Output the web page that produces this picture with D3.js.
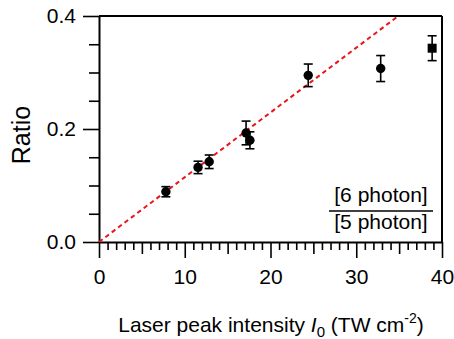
<!DOCTYPE html>
<html><head><meta charset="utf-8">
<script src="https://cdn.jsdelivr.net/npm/d3@7"></script>
<style>
html,body{margin:0;padding:0;background:#fff;}
svg{display:block;font-family:"Liberation Sans",Arial,sans-serif;}
</style></head>
<body>
<svg id="c" width="454" height="339"></svg>
<script>
const intensity = [7.8, 11.55, 12.85, 17.15, 17.6, 24.4, 32.85, 38.85];
const ratio     = [0.089, 0.132, 0.142, 0.193, 0.180, 0.295, 0.307, 0.343];
const ratioErr  = [0.009, 0.011, 0.012, 0.021, 0.015, 0.020, 0.023, 0.022];
const markerShape = ["circle","circle","circle","circle","circle","circle","circle","square"];
const fitX = [0, 34.9];
const fitY = [0, 0.4];
const xMajor = [0, 10, 20, 30, 40];
const xMid = [5, 15, 25, 35];
const xMinor = d3.range(0, 41).filter(v => v % 5 !== 0);
const yMajor = [0.0, 0.2, 0.4];
const yMinor = [0.05, 0.1, 0.15, 0.25, 0.3, 0.35];

const svg = d3.select("#c");
const L = 99, R = 442, T = 16, B = 242;
const x = d3.scaleLinear().domain([0, 40]).range([L, R]);
const y = d3.scaleLinear().domain([0, 0.4]).range([B, T]);

// frame top & right
svg.append("line").attr("x1", L).attr("x2", R).attr("y1", T).attr("y2", T)
  .attr("stroke", "#000").attr("stroke-width", 2);
svg.append("line").attr("x1", R).attr("x2", R).attr("y1", T).attr("y2", B)
  .attr("stroke", "#000").attr("stroke-width", 2);

function styleAxis(g){
  g.select(".domain").attr("stroke-width", 2);
  g.selectAll(".tick line").attr("stroke-width", 1.6);
  g.selectAll("text").attr("font-size", 21).attr("fill", "#000");
}

// x axis
const gx = svg.append("g").attr("transform", `translate(0,${B})`);
gx.append("g").call(d3.axisBottom(x).tickValues(xMinor).tickSize(8).tickFormat("").tickSizeOuter(0))
  .call(g => { g.select(".domain").remove(); g.selectAll(".tick line").attr("stroke-width",1.6); });
gx.append("g").call(d3.axisBottom(x).tickValues(xMid).tickSize(12).tickFormat("").tickSizeOuter(0))
  .call(g => { g.select(".domain").remove(); g.selectAll(".tick line").attr("stroke-width",1.6); });
gx.append("g").call(d3.axisBottom(x).tickValues(xMajor).tickSize(16).tickPadding(11).tickFormat(d3.format("d")).tickSizeOuter(0))
  .call(styleAxis);

// y axis
const gy = svg.append("g").attr("transform", `translate(${L},0)`);
gy.append("g").call(d3.axisLeft(y).tickValues(yMinor).tickSize(10).tickFormat("").tickSizeOuter(0))
  .call(g => { g.select(".domain").remove(); g.selectAll(".tick line").attr("stroke-width",1.6); });
gy.append("g").call(d3.axisLeft(y).tickValues(yMajor).tickSize(16).tickPadding(7).tickFormat(d3.format(".1f")).tickSizeOuter(0))
  .call(styleAxis);

// fit line
svg.append("defs").append("clipPath").attr("id","clip")
  .append("rect").attr("x", L).attr("y", T).attr("width", R-L).attr("height", B-T);
svg.append("path")
  .datum(fitX.map((v,i)=>[v, fitY[i]]))
  .attr("d", d3.line().x(d=>x(d[0])).y(d=>y(d[1])))
  .attr("clip-path","url(#clip)")
  .attr("fill","none").attr("stroke","#e8141c").attr("stroke-width",2)
  .attr("stroke-dasharray","4.5,3.5");

// error bars
const data = intensity.map((v,i)=>({x:v, y:ratio[i], e:ratioErr[i], s:markerShape[i]}));
const eb = svg.append("g").attr("stroke","#000").attr("stroke-width",1.6);
data.forEach(d=>{
  const cx = x(d.x), y1 = y(d.y - d.e), y2 = y(d.y + d.e);
  eb.append("line").attr("x1",cx).attr("x2",cx).attr("y1",y1).attr("y2",y2);
  eb.append("line").attr("x1",cx-4.5).attr("x2",cx+4.5).attr("y1",y1).attr("y2",y1);
  eb.append("line").attr("x1",cx-4.5).attr("x2",cx+4.5).attr("y1",y2).attr("y2",y2);
});
// markers
const mk = svg.append("g");
data.forEach(d=>{
  if (d.s === "square") {
    mk.append("rect").attr("x", x(d.x)-4.5).attr("y", y(d.y)-4.5).attr("width",9).attr("height",9).attr("fill","#000");
  } else {
    mk.append("circle").attr("cx", x(d.x)).attr("cy", y(d.y)).attr("r", 4.7).attr("fill","#000");
  }
});

// fraction label
const fx = 381;
svg.append("text").attr("x", fx).attr("y", 202).attr("text-anchor","middle")
  .attr("font-size", 21).text("[6 photon]");
svg.append("line").attr("x1", 329).attr("x2", 433).attr("y1", 211).attr("y2", 211)
  .attr("stroke","#000").attr("stroke-width",1.5);
svg.append("text").attr("x", fx).attr("y", 229).attr("text-anchor","middle")
  .attr("font-size", 21).text("[5 photon]");

// y label
svg.append("text").attr("transform","translate(30,135) rotate(-90)")
  .attr("text-anchor","middle").attr("font-size", 25).text("Ratio");

// x label
const xl = svg.append("text").attr("x", 271).attr("y", 332).attr("text-anchor","middle").attr("font-size", 21);
xl.append("tspan").text("Laser peak intensity ");
xl.append("tspan").attr("font-style","italic").text("I");
xl.append("tspan").attr("font-size",15).attr("dy",5).text("0");
xl.append("tspan").attr("dy",-5).text(" (TW cm");
xl.append("tspan").attr("font-size",14).attr("dy",-9).text("-2");
xl.append("tspan").attr("dy",9).text(")");
</script>
</body></html>
